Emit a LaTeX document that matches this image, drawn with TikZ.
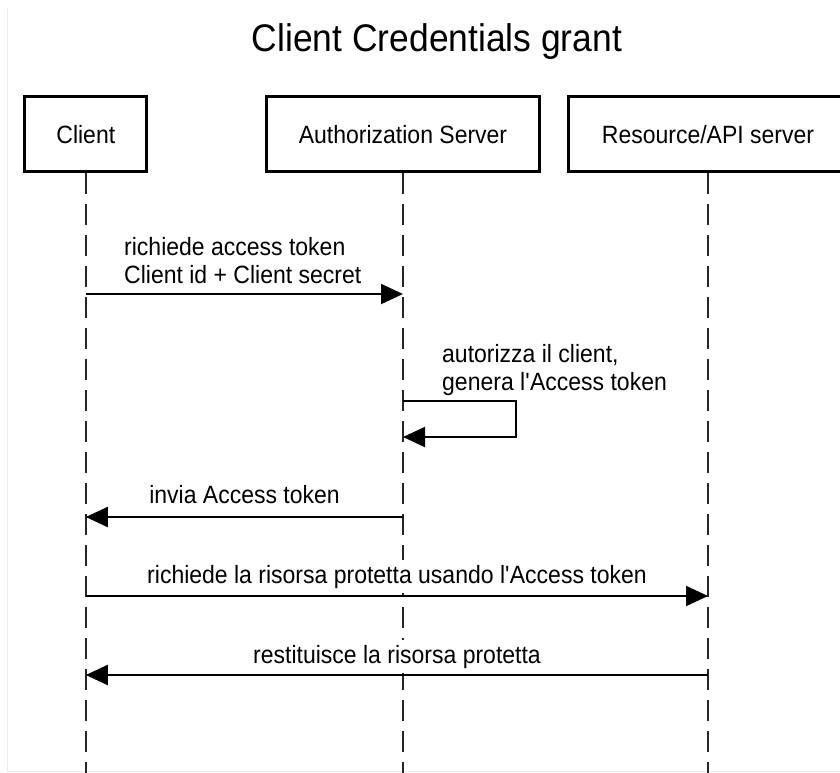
\documentclass[tikz,border=0pt]{standalone}
\usepackage{fontspec}
\setmainfont[FakeStretch=0.92]{Liberation Sans}
\usetikzlibrary{arrows.meta}
\begin{document}
\begin{tikzpicture}[x=1pt,y=-1pt,
  actor/.style={draw, line width=3pt, minimum height=75pt, inner sep=0pt,
    font=\fontsize{25}{30}\selectfont, text height=19pt, text depth=0pt},
  lifeline/.style={line width=2.4pt, draw=black!85, dash pattern=on 21pt off 10pt},
  msg/.style={line width=2pt, -{Triangle[length=22pt,width=20pt]}},
  lbl/.style={inner sep=0pt, font=\fontsize{25}{28}\selectfont},
  bg/.style={fill=white, inner xsep=0pt, inner ysep=5pt},
  frame/.style={draw=black!8, line width=1pt}
]
\clip (0,0) rectangle (840,773);
\fill[white] (0,0) rectangle (840,773);
\draw[frame] (7,8) -- (7,771) -- (840,771);

\node[inner sep=0pt, font=\fontsize{38.5}{40}\selectfont, anchor=base] (title) at (437,52) {Client Credentials grant};

\node[actor, minimum width=121.7pt] (cl) at (85.8,134) {Client};
\node[actor, minimum width=273.5pt] (as) at (403,134) {Authorization Server};
\node[actor, minimum width=279.6pt] (rs) at (708,134) {Resource/API server};

\coordinate (clend) at (85.8,775);
\coordinate (asend) at (403,775);
\coordinate (rsend) at (708,775);
\draw[lifeline] (cl.south) -- (clend);
\draw[lifeline] (as.south) -- (asend);
\draw[lifeline] (rs.south) -- (rsend);

% message 1
\coordinate (m1a) at (85.8,294);
\coordinate (m1b) at (403,294);
\draw[msg] (m1a) -- (m1b);
\node[lbl, align=left, anchor=base west] (t1) at (124,283) {richiede access token\\Client id + Client secret};

% self loop
\coordinate (s1) at (403,401);
\coordinate (s2) at (516,401);
\coordinate (s3) at (516,437);
\coordinate (s4) at (403,437);
\draw[msg] (s1) -- (s2) -- (s3) -- (s4);
\node[lbl, align=left, anchor=base west] (t2) at (442,390) {autorizza il client,\\genera l\textquotesingle Access token};

% message 3
\coordinate (m3a) at (403,517);
\coordinate (m3b) at (85.8,517);
\draw[msg] (m3a) -- (m3b);
\node[lbl, anchor=base] (t3) at (244.5,503) {invia Access token};

% message 4
\node[lbl, bg, anchor=base] (t4) at (397,583) {richiede la risorsa protetta usando l\textquotesingle Access token};
\coordinate (m4a) at (85.8,596);
\coordinate (m4b) at (708,596);
\draw[msg] (m4a) -- (m4b);

% message 5
\node[lbl, bg, anchor=base] (t5) at (397,663) {restituisce la risorsa protetta};
\coordinate (m5a) at (708,675);
\coordinate (m5b) at (85.8,675);
\draw[msg] (m5a) -- (m5b);
\end{tikzpicture}
\end{document}
